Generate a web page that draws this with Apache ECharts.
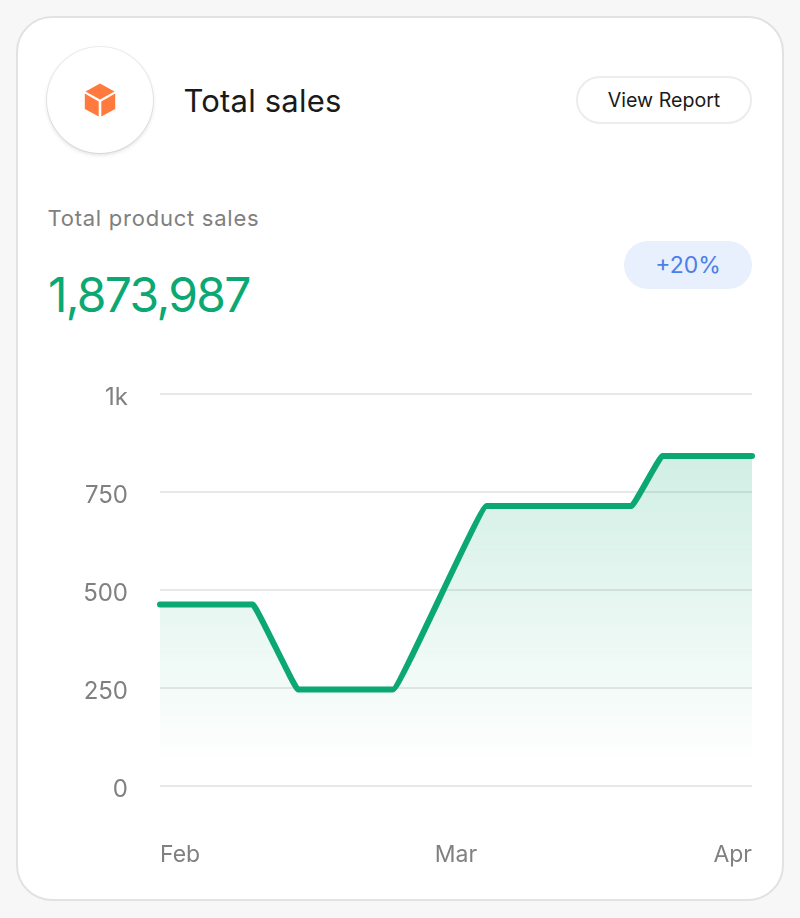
<!DOCTYPE html>
<html><head><meta charset="utf-8">
<script src="https://cdn.jsdelivr.net/npm/echarts@6/dist/echarts.min.js"></script>
<style>
html,body{margin:0;padding:0;width:800px;height:918px;background:#f7f7f7;overflow:hidden;font-family:Inter,sans-serif}
#card{position:absolute;left:16px;top:16px;width:764px;height:881px;background:#fff;border:2px solid #e2e2e2;border-radius:36px}
.t{position:absolute;white-space:nowrap;line-height:1}
#circle{position:absolute;left:47px;top:47px;width:106px;height:106px;border-radius:50%;background:#fff;box-shadow:0 2px 4px rgba(0,0,0,.13),0 0 0 1px #efefef}
#btn{position:absolute;left:576px;top:76px;width:172px;height:44px;border:2px solid #ececec;border-radius:24px}
#badge{position:absolute;left:624px;top:241px;width:128px;height:48px;border-radius:24px;background:#e8effd}
#chart{position:absolute;left:0;top:0;width:800px;height:918px}
</style></head><body>
<div id="card"></div>
<div id="circle"></div>
<svg style="position:absolute;left:80px;top:80px" width="40" height="40" viewBox="0 0 40 40">
<path d="M20 3.500L34.500 11.500L20 19.500L5.500 11.500Z" fill="#ff7a3c"/>
<path d="M4.800 13.500L18.700 21.400V36.500L4.800 29Z" fill="#ff7a3c"/>
<path d="M35.200 13.500L21.300 21.400V36.500L35.200 29Z" fill="#ff7a3c"/>
</svg>
<div class="t" style="left:183.500px;top:85px;font-size:31px;color:#1a1a1a;letter-spacing:.2px">Total sales</div>
<div id="btn"></div>
<div class="t" style="left:576px;width:176px;text-align:center;top:91px;font-size:19.6px;color:#1a1a1a">View Report</div>
<div class="t" style="left:47.500px;top:207px;font-size:22px;color:#808080;letter-spacing:.75px">Total product sales</div>
<div id="badge"></div>
<div class="t" style="left:624px;width:128px;text-align:center;top:254px;font-size:23px;color:#4a80e8">+20%</div>
<div class="t" style="left:48px;top:271px;font-size:48px;color:#0ba873;letter-spacing:-1.7px">1,873,987</div>
<div id="chart"></div>
<script>
var dayIndex = [0, 9.4, 14, 23.6, 33.1, 47.8, 50.9, 60];
var salesValues = [463, 463, 246, 246, 714, 714, 842, 842];
var xTickLabels = {0: 'Feb', 30: 'Mar', 60: 'Apr'};
var yTickLabels = {0: '0', 250: '250', 500: '500', 750: '750', 1000: '1k'};
var points = dayIndex.map(function (d, i) { return [d, salesValues[i]]; });

var chart = echarts.init(document.getElementById('chart'), null, {renderer: 'canvas'});
chart.setOption({
  animation: false,
  backgroundColor: 'transparent',
  grid: {left: 160, right: 48, top: 394, bottom: 132, containLabel: false},
  xAxis: {
    type: 'value', min: 0, max: 60, interval: 30,
    axisLine: {show: false}, axisTick: {show: false}, splitLine: {show: false},
    axisLabel: {
      margin: 58, color: '#808080', fontSize: 23, fontFamily: 'Inter',
      alignMinLabel: 'left', alignMaxLabel: 'right',
      formatter: function (v) { return xTickLabels[v]; }
    }
  },
  yAxis: {
    type: 'value', min: 0, max: 1000, interval: 250,
    axisLine: {show: false}, axisTick: {show: false},
    splitLine: {show: true, lineStyle: {color: '#e8e8e8', width: 2}},
    axisLabel: {
      margin: 32, color: '#808080', fontSize: 24, fontFamily: 'Inter',
      verticalAlign: 'top', lineHeight: 8,
      formatter: function (v) { return yTickLabels[v]; }
    }
  },
  series: [{
    type: 'line',
    data: points,
    smooth: 0.07,
    smoothMonotone: 'x',
    showSymbol: false,
    lineStyle: {color: '#0ba873', width: 6, cap: 'round', join: 'round'},
    areaStyle: {
      origin: 'start',
      color: {type: 'linear', x: 0, y: 0, x2: 0, y2: 1, colorStops: [
        {offset: 0, color: 'rgba(11,168,115,0.27)'},
        {offset: 0.94, color: 'rgba(11,168,115,0)'},
        {offset: 1, color: 'rgba(11,168,115,0)'}
      ]}
    }
  }]
});
</script>
</body></html>
